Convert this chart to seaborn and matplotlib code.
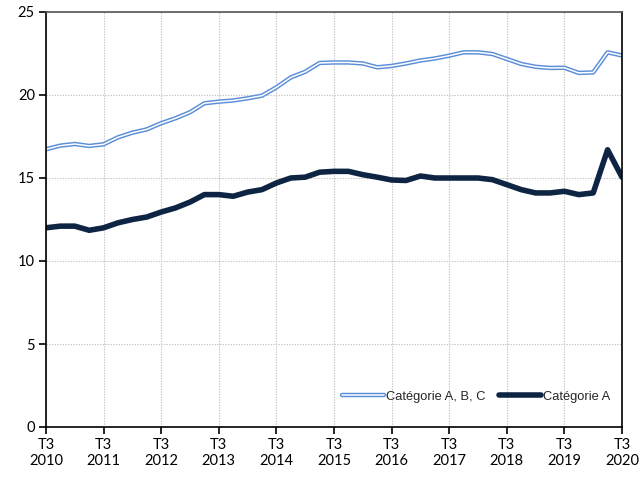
import matplotlib
matplotlib.use("Agg")
import matplotlib.pyplot as plt
import matplotlib.patheffects as pe
import seaborn as sns
import pandas as pd
import numpy as np

years = [str(y) for y in range(2010, 2021)]
tick_labels = ["T3\n" + y for y in years]

cat_abc = [16.73, 16.95, 17.05, 16.93, 17.03, 17.45, 17.73, 17.93, 18.3, 18.6,
           18.96, 19.5, 19.6, 19.67, 19.8, 19.96, 20.46, 21.06, 21.4, 21.93,
           21.96, 21.96, 21.9, 21.67, 21.75, 21.9, 22.08, 22.2, 22.37, 22.57,
           22.57, 22.47, 22.17, 21.87, 21.7, 21.63, 21.64, 21.33, 21.36, 22.57,
           22.38]
cat_a = [12.0, 12.1, 12.1, 11.85, 12.0, 12.3, 12.5, 12.65, 12.95, 13.2,
         13.55, 14.0, 14.0, 13.9, 14.15, 14.3, 14.7, 15.0, 15.05, 15.35,
         15.4, 15.4, 15.2, 15.05, 14.88, 14.85, 15.12, 15.0, 15.0, 15.0,
         15.0, 14.9, 14.6, 14.3, 14.1, 14.1, 14.2, 14.0, 14.1, 16.7,
         15.05]

quarters = list(range(len(cat_a)))
df = pd.DataFrame({"q": quarters, "abc": cat_abc, "a": cat_a})

sns.set_theme(style="white")
plt.rcParams['font.family'] = ['Lato', 'DejaVu Sans']

fig = plt.figure(figsize=(6.42, 4.79), dpi=100)
ax = fig.add_axes([46/642, 1 - 427/479, (622-46)/642, (427-12)/479])

blue = "#5b8ed8"
navy = "#0e2443"

sns.lineplot(data=df, x="q", y="abc", ax=ax, color="white", linewidth=1.1,
             label="Catégorie A, B, C",
             path_effects=[pe.Stroke(linewidth=3.2, foreground=blue), pe.Normal()])
sns.lineplot(data=df, x="q", y="a", ax=ax, color=navy, linewidth=4.0,
             label="Catégorie A")

ax.set_xlim(0, 40)
ax.set_ylim(0, 25)
ax.set_xticks(range(0, 41, 4))
ax.set_xticklabels(tick_labels, fontsize=10.5)
ax.set_yticks(range(0, 26, 5))
ax.set_yticklabels([str(v) for v in range(0, 26, 5)], fontsize=10.5)
ax.set_xlabel("")
ax.set_ylabel("")

ax.grid(True, color="#c4c4c4", linestyle=(0, (1.2, 1.2)), linewidth=0.8)
ax.set_axisbelow(True)
for side in ["left", "bottom", "right"]:
    ax.spines[side].set_color("black")
    ax.spines[side].set_linewidth(1.2)
ax.spines["top"].set_color("#555555")
ax.spines["top"].set_linewidth(1.2)
ax.tick_params(axis="both", direction="out", length=5, width=1.2, color="black",
               bottom=True, left=True, pad=3, labelcolor="black")

leg = ax.legend(loc="lower right", bbox_to_anchor=(1.0, 0.03), ncol=2, frameon=False,
                prop={"family": "Liberation Sans", "size": 9.3},
                handlelength=3.3, handletextpad=0.15, columnspacing=1.0)

fig.savefig("out.png", dpi=100)
